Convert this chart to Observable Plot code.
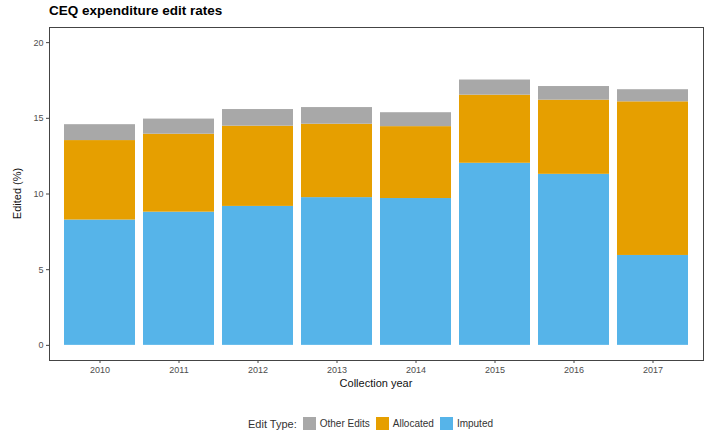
<!DOCTYPE html>
<html>
<head>
<meta charset="utf-8">
<script src="https://cdn.jsdelivr.net/npm/d3@7"></script>
<script src="https://cdn.jsdelivr.net/npm/@observablehq/plot@0.6"></script>
<style>
  body { margin: 0; background: #fff; font-family: "Liberation Sans", Arial, sans-serif; }
  #title { height: 20px; line-height: 22px; padding-left: 49px; font-size: 13.5px; font-weight: bold; color: #000; }
  #legend { height: 31px; display: flex; align-items: center; padding-left: 248px; padding-top: 8px; font-size: 10px; color: #333; }
  #legend .sw { width: 13px; height: 13px; display: inline-block; margin: 0 4px 0 6px; }
</style>
</head>
<body>
<div id="title">CEQ expenditure edit rates</div>
<div id="chart"></div>
<div id="legend"></div>
<script>
const years = ["2010", "2011", "2012", "2013", "2014", "2015", "2016", "2017"];
const imputed = [8.28, 8.8, 9.18, 9.76, 9.7, 12.03, 11.3, 5.94];
const allocated = [5.25, 5.15, 5.3, 4.85, 4.75, 4.5, 4.9, 10.15];
const otherEdits = [1.05, 1.0, 1.1, 1.1, 0.92, 1.0, 0.9, 0.8];
const types = ["Other Edits", "Allocated", "Imputed"];
const colors = ["#a8a8a8", "#E69F00", "#56B4E9"];
const yTicks = [0, 5, 10, 15, 20];

const rows = [];
years.forEach((y, i) => {
  rows.push({year: y, type: "Imputed", value: imputed[i]});
  rows.push({year: y, type: "Allocated", value: allocated[i]});
  rows.push({year: y, type: "Other Edits", value: otherEdits[i]});
});

const chart = Plot.plot({
  width: 709,
  height: 380,
  marginLeft: 49,
  marginRight: 6,
  marginTop: 7,
  marginBottom: 40,
  style: {fontFamily: "Liberation Sans, Arial, sans-serif", fontSize: "9px", color: "#4d4d4d", background: "#fff"},
  x: {domain: years, paddingInner: 0.1, paddingOuter: 0.15},
  y: {domain: [-1, 21]},
  color: {domain: types, range: colors},
  marks: [
    Plot.barY(rows, Plot.stackY({
      x: "year", y: "value", fill: "type",
      order: ["Imputed", "Allocated", "Other Edits"]
    })),
    Plot.frame({stroke: "#444", strokeWidth: 1}),
    Plot.axisY({ticks: yTicks, tickSize: 3, tickPadding: 3, label: null, stroke: "#444"}),
    Plot.axisX({tickSize: 3, tickPadding: 3, label: null, stroke: "#444"})
  ]
});
document.getElementById("chart").appendChild(chart);

const svg = d3.select(chart);
svg.append("text")
  .attr("x", 49 + (709 - 49 - 6) / 2).attr("y", 367)
  .attr("text-anchor", "middle")
  .attr("font-size", "11px").attr("fill", "#111")
  .text("Collection year");
svg.append("text")
  .attr("transform", `translate(21, ${7 + 333 / 2}) rotate(-90)`)
  .attr("text-anchor", "middle")
  .attr("font-size", "11px").attr("fill", "#111")
  .text("Edited (%)");

const legend = document.getElementById("legend");
const lab = document.createElement("span");
lab.textContent = "Edit Type:";
lab.style.fontSize = "11px";
legend.appendChild(lab);
types.forEach((t, i) => {
  const sw = document.createElement("span");
  sw.className = "sw";
  sw.style.background = colors[i];
  legend.appendChild(sw);
  const s = document.createElement("span");
  s.textContent = t;
  legend.appendChild(s);
});
</script>
</body>
</html>
